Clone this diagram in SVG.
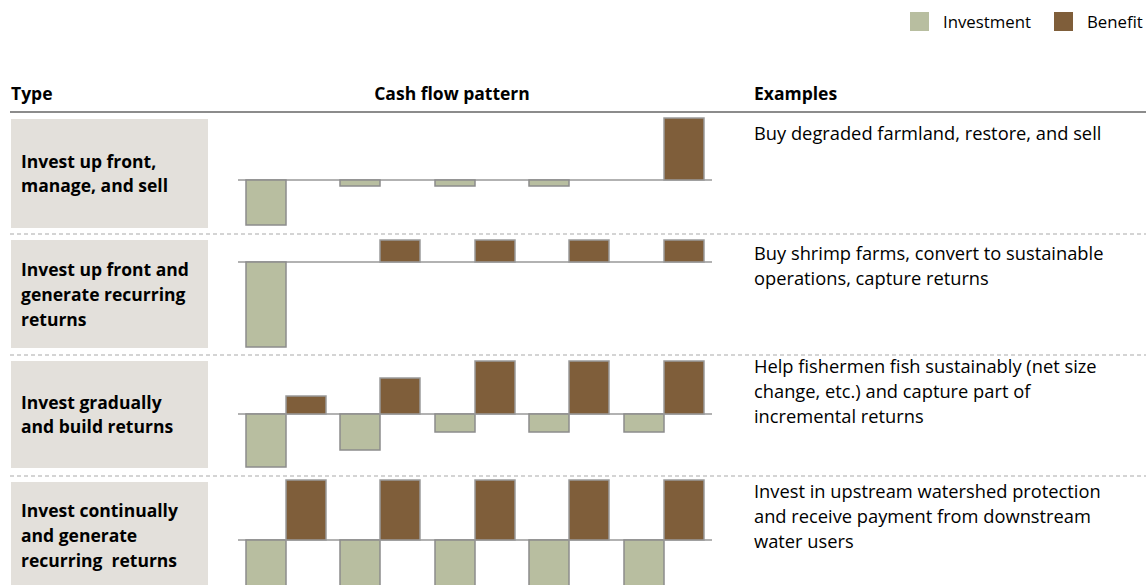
<svg xmlns="http://www.w3.org/2000/svg" width="1146" height="585" viewBox="0 0 1146 585">
<style>
.t{font-family:"Open Sans","Liberation Sans",sans-serif;fill:#000}
.h{font-size:17.5px;font-weight:bold}
.ty{font-size:17.5px;font-weight:bold}
.ex{font-size:18.3px}
.lg{font-size:16.8px}
.box{fill:#e3e0db}
.inv{fill:#b8bea0;stroke:#8c8c8c;stroke-width:1.5}
.ben{fill:#7f5e3a;stroke:#9a9a9a;stroke-width:1.5}
.base{stroke:#999;stroke-width:1.5}
.dash{stroke:#aaa;stroke-width:1.2;stroke-dasharray:4 3}
</style>
<g id="legend">
<rect x="910" y="12" width="19" height="19" fill="#b8bea0"/>
<text class="t lg" x="943" y="28">Investment</text>
<rect x="1054" y="12" width="19" height="19" fill="#7f5e3a"/>
<text class="t lg" x="1087" y="28">Benefit</text>
</g>
<g id="header">
<text class="t h" x="11" y="100">Type</text>
<text class="t h" x="452" y="100" text-anchor="middle">Cash flow pattern</text>
<text class="t h" x="754" y="100">Examples</text>
<line x1="10" y1="112" x2="1146" y2="112" stroke="#666" stroke-width="1.5"/>
</g>
<g id="connectors">
<line class="dash" x1="10" y1="234" x2="1146" y2="234"/>
<line class="dash" x1="10" y1="355" x2="1146" y2="355"/>
<line class="dash" x1="10" y1="476" x2="1146" y2="476"/>
</g>
<g id="row1">
<rect class="box" x="11" y="119" width="197" height="109"/>
<text class="t ty" x="21" y="168">Invest up front,</text>
<text class="t ty" x="21" y="192">manage, and sell</text>
<line class="base" x1="238" y1="180" x2="712" y2="180"/>
<rect class="inv" x="246" y="180" width="40" height="45"/>
<rect class="inv" x="340" y="180" width="40" height="6"/>
<rect class="inv" x="435" y="180" width="40" height="6"/>
<rect class="inv" x="529" y="180" width="40" height="6"/>
<rect class="ben" x="664" y="118" width="40" height="62"/>
<text class="t ex" x="754" y="140">Buy degraded farmland, restore, and sell</text>
</g>
<g id="row2">
<rect class="box" x="11" y="240" width="197" height="108"/>
<text class="t ty" x="21" y="276">Invest up front and</text>
<text class="t ty" x="21" y="301">generate recurring</text>
<text class="t ty" x="21" y="326">returns</text>
<line class="base" x1="238" y1="262" x2="712" y2="262"/>
<rect class="inv" x="246" y="262" width="40" height="85"/>
<rect class="ben" x="380" y="240" width="40" height="22"/>
<rect class="ben" x="475" y="240" width="40" height="22"/>
<rect class="ben" x="569" y="240" width="40" height="22"/>
<rect class="ben" x="664" y="240" width="40" height="22"/>
<text class="t ex" x="754" y="260">Buy shrimp farms, convert to sustainable</text>
<text class="t ex" x="754" y="285">operations, capture returns</text>
</g>
<g id="row3">
<rect class="box" x="11" y="361" width="197" height="107"/>
<text class="t ty" x="21" y="409">Invest gradually</text>
<text class="t ty" x="21" y="433">and build returns</text>
<line class="base" x1="238" y1="414" x2="712" y2="414"/>
<rect class="inv" x="246" y="414" width="40" height="53"/>
<rect class="ben" x="286" y="396" width="40" height="18"/>
<rect class="inv" x="340" y="414" width="40" height="36"/>
<rect class="ben" x="380" y="378" width="40" height="36"/>
<rect class="inv" x="435" y="414" width="40" height="18"/>
<rect class="ben" x="475" y="361" width="40" height="53"/>
<rect class="inv" x="529" y="414" width="40" height="18"/>
<rect class="ben" x="569" y="361" width="40" height="53"/>
<rect class="inv" x="624" y="414" width="40" height="18"/>
<rect class="ben" x="664" y="361" width="40" height="53"/>
<text class="t ex" x="754" y="373">Help fishermen fish sustainably (net size</text>
<text class="t ex" x="754" y="398">change, etc.) and capture part of</text>
<text class="t ex" x="754" y="423">incremental returns</text>
</g>
<g id="row4">
<rect class="box" x="11" y="482" width="197" height="110"/>
<text class="t ty" x="21" y="517">Invest continually</text>
<text class="t ty" x="21" y="542">and generate</text>
<text class="t ty" x="21" y="567" xml:space="preserve">recurring  returns</text>
<line class="base" x1="238" y1="540" x2="712" y2="540"/>
<rect class="inv" x="246" y="540" width="40" height="60"/>
<rect class="ben" x="286" y="480" width="40" height="60"/>
<rect class="inv" x="340" y="540" width="40" height="60"/>
<rect class="ben" x="380" y="480" width="40" height="60"/>
<rect class="inv" x="435" y="540" width="40" height="60"/>
<rect class="ben" x="475" y="480" width="40" height="60"/>
<rect class="inv" x="529" y="540" width="40" height="60"/>
<rect class="ben" x="569" y="480" width="40" height="60"/>
<rect class="inv" x="624" y="540" width="40" height="60"/>
<rect class="ben" x="664" y="480" width="40" height="60"/>
<text class="t ex" x="754" y="498">Invest in upstream watershed protection</text>
<text class="t ex" x="754" y="523">and receive payment from downstream</text>
<text class="t ex" x="754" y="548">water users</text>
</g>
</svg>
